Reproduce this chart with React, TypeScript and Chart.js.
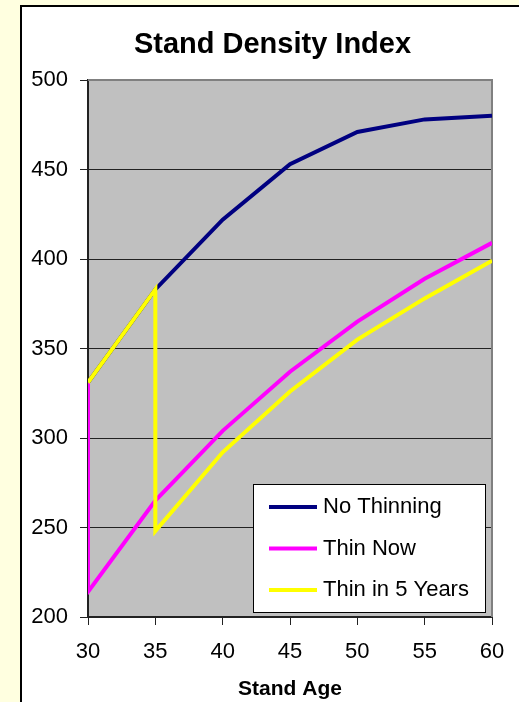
import { useEffect, useRef } from "react";
import { Chart, registerables } from "chart.js";

Chart.register(...registerables);

// Stand age (years) for each series; the repeated ages mark the thinning drops.
const noThinningAge = [30, 35, 40, 45, 50, 55, 60];
const noThinningSdi = [331, 383, 422, 453, 471, 478, 480];

const thinNowAge = [30, 30, 35, 40, 45, 50, 55, 60];
const thinNowSdi = [331, 214, 265, 304, 337, 365, 389, 409];

const thinIn5Age = [30, 35, 35, 40, 45, 50, 55, 60];
const thinIn5Sdi = [331, 383, 248, 292, 326, 355, 378, 399];

const seriesNames = ["No Thinning", "Thin Now", "Thin in 5 Years"];
const seriesColors = ["#000080", "#FF00FF", "#FFFF00"];

const titleText = "Stand Density Index";
const xAxisTitle = "Stand Age";
const xMin = 30;
const xMax = 60;
const xStep = 5;
const yMin = 200;
const yMax = 500;
const yStep = 50;

const FONT = '"Liberation Sans", Arial, sans-serif';

const toPoints = (xs: number[], ys: number[]) => xs.map((x, i) => ({ x, y: ys[i] }));

// Grey plot background, grey top/right frame, title and an in-plot legend box.
const framePlugin = {
  id: "framePlugin",
  beforeDraw(chart: any) {
    const { ctx, chartArea: a } = chart;
    ctx.save();
    ctx.fillStyle = "#C0C0C0";
    ctx.fillRect(a.left, a.top, a.right - a.left, a.bottom - a.top);
    ctx.restore();
  },
  beforeDatasetsDraw(chart: any) {
    const { ctx, chartArea: a } = chart;
    ctx.save();
    ctx.strokeStyle = "#808080";
    ctx.lineWidth = 2;
    ctx.beginPath();
    ctx.moveTo(a.left, a.top);
    ctx.lineTo(a.right, a.top);
    ctx.lineTo(a.right, a.bottom);
    ctx.stroke();
    ctx.restore();
  },
  afterDraw(chart: any) {
    const { ctx, chartArea: a } = chart;
    ctx.save();
    // title
    ctx.fillStyle = "#000";
    ctx.font = `bold 29px ${FONT}`;
    ctx.textAlign = "center";
    ctx.textBaseline = "middle";
    ctx.fillText(titleText, 272.5, 45);

    // legend
    const left = a.right - 239;
    const top = a.bottom - 133;
    const w = 233;
    const h = 129;
    ctx.fillStyle = "#FFFFFF";
    ctx.fillRect(left, top, w, h);
    ctx.strokeStyle = "#000";
    ctx.lineWidth = 1;
    ctx.strokeRect(left + 0.5, top + 0.5, w - 1, h - 1);
    ctx.font = `22px ${FONT}`;
    ctx.textAlign = "left";
    ctx.textBaseline = "middle";
    seriesNames.forEach((name, i) => {
      const y = top + 23 + i * 41.5;
      ctx.strokeStyle = seriesColors[i];
      ctx.lineWidth = 4;
      ctx.beginPath();
      ctx.moveTo(left + 16, y);
      ctx.lineTo(left + 64, y);
      ctx.stroke();
      ctx.fillStyle = "#000";
      ctx.fillText(name, left + 70, y);
    });
    ctx.restore();
  },
};

export default function App() {
  const canvasRef = useRef<HTMLCanvasElement | null>(null);

  useEffect(() => {
    const canvas = canvasRef.current;
    if (!canvas) return;
    const datasets = [
      { label: seriesNames[0], data: toPoints(noThinningAge, noThinningSdi), order: 3 },
      { label: seriesNames[1], data: toPoints(thinNowAge, thinNowSdi), order: 2 },
      { label: seriesNames[2], data: toPoints(thinIn5Age, thinIn5Sdi), order: 1 },
    ].map((d, i) => ({
      ...d,
      borderColor: seriesColors[i],
      backgroundColor: seriesColors[i],
      borderWidth: 4,
      pointRadius: 0,
      tension: 0,
      fill: false,
    }));

    const chart = new Chart(canvas, {
      type: "line",
      data: { datasets },
      plugins: [framePlugin],
      options: {
        animation: false,
        responsive: false,
        devicePixelRatio: 1,
        layout: { padding: { top: 80, left: 0, right: 27, bottom: 0 } },
        plugins: {
          legend: { display: false },
          title: { display: false },
          tooltip: { enabled: false },
        },
        scales: {
          x: {
            type: "linear",
            min: xMin,
            max: xMax,
            afterFit: (s: any) => {
              s.height = 85;
            },
            ticks: {
              stepSize: xStep,
              padding: 14,
              color: "#000",
              font: { family: FONT, size: 22 },
              maxRotation: 0,
            },
            grid: {
              drawOnChartArea: false,
              drawTicks: true,
              tickLength: 8,
              color: "#222",
              lineWidth: 1,
            },
            border: { display: true, color: "#222", width: 2 },
            title: {
              display: true,
              text: xAxisTitle,
              color: "#000",
              font: { family: FONT, size: 21, weight: "bold" },
              padding: { top: 0, bottom: 0 },
            },
          },
          y: {
            type: "linear",
            min: yMin,
            max: yMax,
            afterFit: (s: any) => {
              s.width = 88;
            },
            ticks: {
              stepSize: yStep,
              padding: 12,
              color: "#000",
              font: { family: FONT, size: 22 },
            },
            grid: {
              drawTicks: true,
              tickLength: 8,
              color: "#222",
              lineWidth: 1,
            },
            border: { display: true, color: "#222", width: 2 },
          },
        },
      },
    } as any);
    return () => chart.destroy();
  }, []);

  return (
    <div
      style={{
        position: "fixed",
        left: 0,
        top: 0,
        width: 519,
        height: 702,
        background: "#FFFFE0",
        overflow: "hidden",
      }}
    >
      <div
        style={{
          position: "absolute",
          left: 20,
          top: 5,
          width: 499,
          height: 697,
          boxSizing: "border-box",
          background: "#FFFFFF",
          borderLeft: "2px solid #000",
          borderTop: "2px solid #000",
        }}
      />
      <canvas
        ref={canvasRef}
        width={519}
        height={702}
        style={{ position: "absolute", left: 0, top: 0, width: 519, height: 702 }}
      />
    </div>
  );
}
